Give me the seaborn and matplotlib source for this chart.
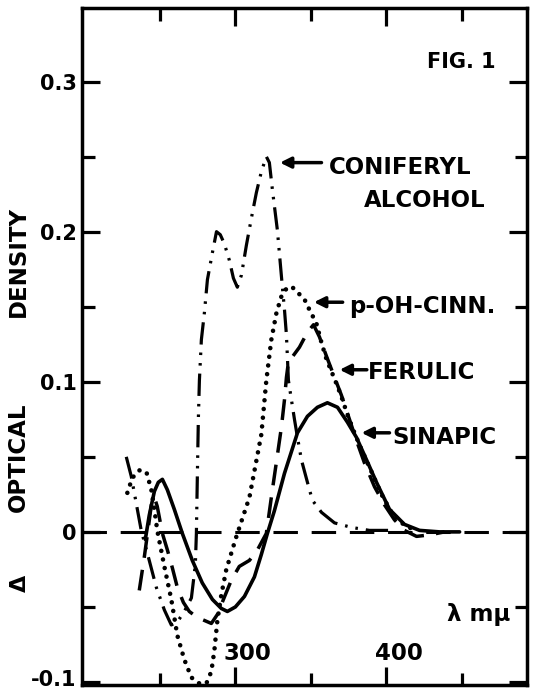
import matplotlib
matplotlib.use("Agg")
import matplotlib.pyplot as plt
import matplotlib.transforms as mtransforms
import seaborn as sns
import pandas as pd

# wavelength (m-mu) / delta optical density
wl_coniferyl = [227.8, 231.1, 237.7, 243.0, 247.7, 253.0, 257.6, 261.6, 266.2, 270.9,
                273.5, 274.2, 274.8, 275.5, 276.2, 277.5, 279.5, 281.5, 284.8, 287.5,
                290.0, 292.7, 296.0, 298.7, 301.3, 304.0, 307.3, 310.6, 313.9, 317.2,
                320.5, 322.5, 324.5, 327.8, 330.5, 332.5, 333.8, 335.1, 337.1, 339.1,
                341.1, 343.7, 347.7, 351.0, 357.0, 365.6, 376.8, 388.7, 403.3]
od_coniferyl = [0.050, 0.037, 0.001, -0.019, -0.037, -0.052, -0.062, -0.060, -0.053, -0.044,
                -0.022, -0.001, 0.035, 0.075, 0.101, 0.128, 0.146, 0.168, 0.186, 0.200,
                0.198, 0.192, 0.181, 0.169, 0.163, 0.171, 0.191, 0.209, 0.226, 0.240,
                0.250, 0.246, 0.228, 0.201, 0.170, 0.148, 0.131, 0.101, 0.088, 0.075,
                0.063, 0.048, 0.033, 0.021, 0.013, 0.006, 0.003, 0.001, 0.001]

wl_pohcinn = [228.5, 231.8, 236.4, 241.1, 244.4, 246.4, 248.3, 253.0, 257.6, 261.6,
              266.2, 270.9, 276.2, 280.8, 284.1, 286.1, 288.1, 290.7, 294.0, 300.7,
              309.3, 317.2, 320.5, 323.8, 327.2, 330.5, 334.4, 337.7, 345.7, 349.0,
              353.6, 357.0, 360.3, 367.6, 370.9, 374.2, 378.8, 383.4, 390.1, 396.7,
              403.3, 409.9, 418.5]
od_pohcinn = [0.026, 0.036, 0.041, 0.040, 0.028, 0.015, 0.001, -0.023, -0.045, -0.069,
              -0.085, -0.097, -0.101, -0.101, -0.093, -0.079, -0.059, -0.042, -0.025, -0.003,
              0.023, 0.065, 0.101, 0.128, 0.146, 0.157, 0.163, 0.163, 0.155, 0.148,
              0.139, 0.126, 0.115, 0.097, 0.088, 0.078, 0.066, 0.055, 0.040, 0.025,
              0.013, 0.006, 0.001]

wl_ferulic = [236.4, 239.7, 242.4, 244.4, 246.4, 248.3, 251.7, 255.0, 258.3, 261.6,
              265.6, 269.5, 274.8, 279.5, 284.1, 288.1, 292.1, 297.4, 302.6, 309.3,
              314.6, 320.5, 324.5, 327.8, 330.5, 332.5, 333.8, 335.1, 342.4, 347.7,
              351.7, 355.6, 360.3, 365.6, 370.2, 375.5, 380.1, 385.4, 392.1, 398.7,
              405.3, 411.9, 419.9, 428.5, 438.4]
od_ferulic = [-0.039, -0.017, 0.003, 0.018, 0.023, 0.017, -0.001, -0.012, -0.024, -0.037,
              -0.047, -0.053, -0.057, -0.059, -0.061, -0.055, -0.045, -0.032, -0.023, -0.019,
              -0.012, -0.001, 0.028, 0.051, 0.070, 0.088, 0.103, 0.113, 0.123, 0.133,
              0.138, 0.130, 0.117, 0.103, 0.091, 0.075, 0.061, 0.046, 0.030, 0.018,
              0.008, 0.001, -0.003, -0.002, 0.000]

wl_sinapic = [240.4, 243.0, 246.4, 249.0, 251.7, 255.0, 259.6, 264.9, 271.5, 278.1,
              284.8, 290.7, 294.7, 300.0, 306.0, 312.6, 317.2, 321.2, 325.8, 332.5,
              341.1, 347.7, 354.3, 360.9, 367.6, 374.2, 380.1, 386.8, 393.4, 402.0,
              411.9, 421.9, 435.1, 448.4]
od_sinapic = [-0.005, 0.011, 0.027, 0.033, 0.035, 0.028, 0.015, -0.001, -0.019, -0.034,
              -0.045, -0.051, -0.053, -0.050, -0.043, -0.030, -0.015, -0.001, 0.014, 0.039,
              0.066, 0.077, 0.083, 0.086, 0.083, 0.073, 0.063, 0.048, 0.033, 0.015,
              0.005, 0.001, 0.000, 0.000]

y_ticks = [-0.1, 0, 0.1, 0.2, 0.3]
y_ticklabels = ["-0.1", "0", "0.1", "0.2", "0.3"]
x_labels = ["300", "400"]

sns.set_theme(style="ticks")
plt.rcParams["font.family"] = ["DejaVu Sans"]
plt.rcParams["font.weight"] = "bold"
plt.rcParams["text.color"] = "black"

fig = plt.figure(figsize=(5.51, 6.92), dpi=100)
ax = fig.add_axes([82 / 551, 7 / 692, 445 / 551, 677 / 692])

ink = "black"
lab_size = 16.5

def curve(wl, od, **kw):
    df = pd.DataFrame({"wl": wl, "od": od})
    sns.lineplot(data=df, x="wl", y="od", ax=ax, color=ink, estimator=None,
                 sort=False, legend=False, **kw)

# zero base line
ax.axhline(0, color=ink, lw=2.2, ls=(0, (8, 4.5)), zorder=1)

curve(wl_sinapic, od_sinapic, lw=2.6, ls="-", solid_capstyle="round")
curve(wl_ferulic, od_ferulic, lw=2.5, ls=(0, (6, 3.5)))
curve(wl_pohcinn, od_pohcinn, lw=3.3, ls=(0, (0.01, 1.9)), dash_capstyle="round")
curve(wl_coniferyl, od_coniferyl, lw=2.3, ls=(0, (7, 2.5, 0.8, 2.5, 0.8, 2.5)))

ax.set_xlim(198.5, 493)
ax.set_ylim(-0.102, 0.349)

ax.set_yticks(y_ticks)
ax.set_yticklabels(y_ticklabels)
ax.set_yticks([-0.05, 0.05, 0.15, 0.25], minor=True)
ax.set_xticks([300, 400])
ax.set_xticklabels([])
ax.set_xticks([250, 350, 450], minor=True)

ax.tick_params(which="both", direction="in", top=True, right=True,
               width=2.3, color=ink, labelcolor=ink, labelsize=15, pad=4)
ax.tick_params(which="major", length=13)
ax.tick_params(which="minor", length=9)
for lab in ax.get_yticklabels():
    lab.set_fontweight("bold")
# lowest value label sits on the frame corner, lift it a little
low = ax.get_yticklabels()[0]
low.set_transform(low.get_transform() + mtransforms.ScaledTranslation(0, 4 / 100, fig.dpi_scale_trans))

for sp in ax.spines.values():
    sp.set_linewidth(2.5)
    sp.set_color(ink)

ax.set_xlabel("")
ax.set_ylabel("")

# x tick values written inside the frame
for xv, lab in zip([308, 408], x_labels):
    ax.text(xv, -0.081, lab, ha="center", va="center", fontsize=lab_size, fontweight="bold")

ax.text(461, -0.055, "λ mμ", ha="center", va="center", fontsize=lab_size, fontweight="bold")
ax.text(427, 0.313, "FIG. 1", ha="left", va="center", fontsize=15, fontweight="bold")

arrow = dict(arrowstyle="-|>", color=ink, lw=2.5, mutation_scale=16, shrinkA=0, shrinkB=0)
ax.annotate("", xy=(329.5, 0.246), xytext=(357, 0.246), arrowprops=arrow)
ax.text(362, 0.243, "CONIFERYL", ha="left", va="center", fontsize=lab_size, fontweight="bold")
ax.text(385, 0.221, "ALCOHOL", ha="left", va="center", fontsize=lab_size, fontweight="bold")

ax.annotate("", xy=(352, 0.153), xytext=(371, 0.153), arrowprops=arrow)
ax.text(375, 0.150, "p-OH-CINN.", ha="left", va="center", fontsize=lab_size, fontweight="bold")

ax.annotate("", xy=(369, 0.108), xytext=(387, 0.108), arrowprops=arrow)
ax.text(387.5, 0.106, "FERULIC", ha="left", va="center", fontsize=lab_size, fontweight="bold")

ax.annotate("", xy=(383.5, 0.066), xytext=(402, 0.066), arrowprops=arrow)
ax.text(404, 0.063, "SINAPIC", ha="left", va="center", fontsize=lab_size, fontweight="bold")

# vertical axis title pieces
fig.text(18 / 551, 1 - 261 / 692, "DENSITY", rotation=90, ha="center", va="center",
         fontsize=16.5, fontweight="bold")
fig.text(18 / 551, 1 - 457 / 692, "OPTICAL", rotation=90, ha="center", va="center",
         fontsize=16.5, fontweight="bold")
fig.text(20 / 551, 1 - 583 / 692, "Δ", rotation=90, ha="center", va="center",
         fontsize=16, fontweight="bold")

fig.savefig("out.png", dpi=100, facecolor="white")
